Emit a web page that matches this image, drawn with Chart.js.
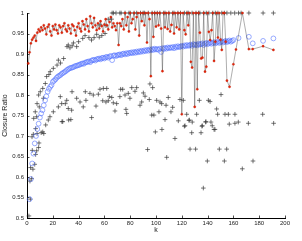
<!DOCTYPE html>
<html>
<head>
<meta charset="UTF-8">
<title>Closure Ratio</title>
<script src="https://cdn.jsdelivr.net/npm/chart.js"></script>
<style>
  body { margin: 0; background: #fff; }
  #wrap { width: 302px; height: 241px; }
</style>
</head>
<body>
<div id="wrap"><canvas id="c" width="302" height="241"></canvas></div>
<script>
// red series (line + dots), k = 1..154 dense, then a sparse tail
const redDense = [
  0.877, 0.904, 0.926, 0.935, 0.940, 0.945, 0.932, 0.952, 0.960, 0.955,
  0.965, 0.958, 0.970, 0.962, 0.948, 0.966, 0.972, 0.955, 0.945, 0.968,
  0.960, 0.972, 0.958, 0.950, 0.970, 0.965, 0.952, 0.968, 0.975, 0.960,
  0.955, 0.970, 0.962, 0.950, 0.972, 0.968, 0.958, 0.945, 0.966, 0.975,
  0.962, 0.955, 0.980, 0.972, 0.960, 0.985, 0.968, 0.955, 0.992, 0.975,
  0.965, 0.988, 0.970, 0.958, 0.975, 0.962, 0.980, 0.968, 0.955, 0.972,
  0.985, 0.970, 0.960, 0.978, 0.990, 0.965, 0.975, 0.968, 0.958, 0.975,
  0.922, 0.975, 0.968, 0.985, 0.960, 1.000, 0.970, 0.990, 0.955, 1.000,
  0.975, 0.985, 1.000, 0.960, 0.990, 1.000, 0.945, 1.000, 0.980, 1.000,
  0.970, 1.000, 0.928, 1.000, 0.985, 0.846, 1.000, 0.942, 1.000, 0.967,
  1.000, 0.970, 1.000, 0.962, 0.858, 1.000, 0.965, 1.000, 0.961, 1.000,
  0.955, 0.971, 1.000, 0.950, 1.000, 0.965, 1.000, 0.960, 1.000, 0.753,
  1.000, 0.958, 0.948, 1.000, 0.970, 1.000, 0.881, 0.867, 1.000, 0.771,
  1.000, 0.814, 1.000, 0.952, 0.889, 0.891, 1.000, 0.857, 0.869, 1.000,
  0.954, 0.934, 0.958, 1.000, 0.883, 0.930, 1.000, 0.940, 1.000, 0.935,
  0.910, 1.000, 1.000, 0.930
];
const redTailK = [155, 157, 160, 162, 167, 172, 175, 183, 191];
const redTailV = [0.835, 0.820, 0.875, 0.911, 1.000, 0.912, 0.912, 0.919, 0.910];

// blue circles, k = 2..160 dense, then a sparse tail
const blueDense = [
  0.546, 0.595, 0.633, 0.657, 0.682, 0.700, 0.717, 0.730,
  0.745, 0.755, 0.763, 0.775, 0.787, 0.797, 0.808, 0.815, 0.820, 0.824, 0.832,
  0.835, 0.838, 0.842, 0.845, 0.847, 0.849, 0.852, 0.854, 0.856, 0.858,
  0.861, 0.863, 0.865, 0.866, 0.867, 0.868, 0.870, 0.871, 0.872, 0.873,
  0.874, 0.876, 0.877, 0.876, 0.879, 0.880, 0.881, 0.882, 0.880, 0.884,
  0.885, 0.886, 0.884, 0.887, 0.888, 0.889, 0.887, 0.890, 0.891, 0.889,
  0.892, 0.893, 0.891, 0.894, 0.895, 0.885, 0.896, 0.897, 0.895, 0.897,
  0.898, 0.899, 0.897, 0.900, 0.901, 0.899, 0.902, 0.900, 0.903, 0.902,
  0.904, 0.902, 0.905, 0.903, 0.906, 0.904, 0.907, 0.905, 0.908, 0.906,
  0.909, 0.907, 0.910, 0.908, 0.911, 0.909, 0.912, 0.910, 0.913, 0.911,
  0.912, 0.910, 0.913, 0.905, 0.914, 0.912, 0.915, 0.913, 0.916, 0.914,
  0.916, 0.915, 0.917, 0.914, 0.918, 0.916, 0.919, 0.917, 0.918, 0.920,
  0.918, 0.921, 0.919, 0.922, 0.920, 0.921, 0.923, 0.920, 0.924, 0.922,
  0.923, 0.921, 0.925, 0.923, 0.924, 0.926, 0.922, 0.925, 0.927, 0.924,
  0.926, 0.928, 0.925, 0.927, 0.929, 0.926, 0.928, 0.930, 0.927, 0.929,
  0.931, 0.928, 0.930, 0.932, 0.929, 0.931, 0.933, 0.930, 0.932, 0.934
];
const blueTailK = [164, 172, 175, 183, 191];
const blueTailV = [0.939, 0.942, 0.926, 0.932, 0.938];

// black pluses [k, ratio]
const plusPts = [
  [1.5,0.505],[2.6,0.546],[2.3,0.590],[3.6,0.596],[2.8,0.623],[4.6,0.619],[6,0.631],
  [4.1,0.665],[6.7,0.655],[7.5,0.664],[9.3,0.683],[9,0.672],[3.9,0.698],[4.9,0.704],
  [6.7,0.718],[7.8,0.706],[11,0.708],[12.2,0.710],[13,0.706],[14.5,0.727],[16.5,0.739],
  [27.7,0.735],[34,0.740],[27.1,0.735],[32.3,0.739],[93.5,0.667],
  [5.2,0.743],[6.4,0.759],[7.8,0.779],[9.5,0.771],[9,0.800],[10.3,0.808],[12.2,0.816],
  [14.2,0.828],[15.2,0.845],[17,0.850],[18,0.857],[20.4,0.865],[23.3,0.873],[24.3,0.885],
  [26,0.878],[28.4,0.889],[31,0.918],[32,0.922],[33.3,0.915],[35,0.920],[36,0.927],
  [38.5,0.918],[40,0.930],[43.2,0.938],[45,0.945],[48,0.940],[50,0.934],[52,0.940],
  [54,0.948],[56,0.941],[58,0.945],[60.5,0.950],[61.2,0.969],[56.6,0.971],[63,0.985],
  [65.6,0.985],
  [66,1],[67,1],[69,1],[72,1],[73,1],[76,1],[79,1],[80,1],[83,1],[85,1],[88,1],[90,1],
  [91,1],[94,1],[97,1],[99,1],[101,1],[103,1],[106,1],[107,1],[110,1],[113,1],[114,1],
  [117,1],[119,1],[122,1],[124,1],[125,1],[128,1],[131,1],[133,1],[134,1],[137,1],
  [139,1],[141,1],[144,1],[146,1],[148,1],[151,1],[153,1],[155,1],[158,1],[161,1],
  [164,1],[166,1],[172,1],[183,1],[191,1],
  [7.5,0.747],[12.7,0.792],[17.8,0.747],[20.4,0.759],[24.3,0.771],[25.8,0.796],
  [26.9,0.779],[29.7,0.779],[30.8,0.787],[32,0.767],[34.6,0.763],[34.9,0.808],
  [38.5,0.792],[41.1,0.783],[43.6,0.771],[45.2,0.808],[45.7,0.787],[48.8,0.804],
  [50.1,0.745],[51.4,0.800],[53.5,0.773],[55.3,0.802],[56.6,0.814],[58.7,0.786],
  [59.2,0.816],[61.2,0.783],[61.8,0.816],[63,0.786],[63.8,0.796],[65.7,0.794],
  [66.9,0.781],[68.2,0.761],[69.5,0.779],[72,0.796],[72.6,0.814],[74.2,0.814],
  [76,0.800],[76.7,0.765],[77.3,0.755],[78.5,0.804],[79.8,0.792],[81.2,0.818],
  [83.7,0.809],[85,0.818],[87.6,0.775],[88.9,0.783],[90.2,0.805],[91.5,0.797],
  [94.8,0.789],[95.3,0.827],[96.7,0.751],[97.4,0.818],[98.4,0.751],[99.5,0.710],
  [100.5,0.787],[102.3,0.759],[103.1,0.783],[104.4,0.779],[104.6,0.716],[107,0.740],
  [107.8,0.775],[108.3,0.648],[109.5,0.794],[111.6,0.759],[112.9,0.770],[114.7,0.694],
  [117.3,0.737],[118.6,0.789],[121.2,0.787],[122,0.724],[122.5,0.725],[123.8,0.753],
  [125.6,0.738],[125.8,0.739],[126.4,0.668],[127.7,0.708],[128.1,0.734],[130.7,0.668],
  [131.5,0.753],[133.6,0.787],[134.9,0.708],[135.6,0.724],[135.9,0.725],[136.7,0.573],
  [138.5,0.734],[138.7,0.735],[139.8,0.639],[140.6,0.787],[141.9,0.784],[142.6,0.734],
  [143.6,0.725],[145,0.716],[145.7,0.716],[147,0.766],[147.8,0.753],[149.1,0.668],
  [150.4,0.801],[153,0.639],[153.5,0.753],[154.8,0.668],[156.1,0.753],[156.8,0.729],
  [161.2,0.753],[161.2,0.731],[163.8,0.734],[166.9,0.620],[171.6,0.731],[175.2,0.639],
  [182.7,0.753],[191.2,0.731]
];

const xTicks = [0, 20, 40, 60, 80, 100, 120, 140, 160, 180, 200];
const yTicks = [0.5, 0.55, 0.6, 0.65, 0.7, 0.75, 0.8, 0.85, 0.9, 0.95, 1];

const redData = redDense.map((v, i) => ({ x: i + 1, y: v }))
  .concat(redTailK.map((k, i) => ({ x: k, y: redTailV[i] })));
const blueData = blueDense.map((v, i) => ({ x: i + 2, y: v }))
  .concat(blueTailK.map((k, i) => ({ x: k, y: blueTailV[i] })));
const plusData = plusPts.map(p => ({ x: p[0], y: p[1] }));

// MATLAB style inward ticks
const inTicks = {
  id: 'inTicks',
  afterDraw(chart) {
    const { ctx, chartArea: a, scales: { x, y } } = chart;
    ctx.save();
    ctx.strokeStyle = '#000';
    ctx.lineWidth = 0.7;
    ctx.beginPath();
    xTicks.forEach(t => {
      const px = Math.round(x.getPixelForValue(t)) + 0.5;
      ctx.moveTo(px, a.bottom); ctx.lineTo(px, a.bottom - 2.5);
    });
    yTicks.forEach(t => {
      const py = Math.round(y.getPixelForValue(t)) + 0.5;
      ctx.moveTo(a.left, py); ctx.lineTo(a.left + 2.5, py);
    });
    ctx.stroke();
    ctx.restore();
  }
};

new Chart(document.getElementById('c'), {
  type: 'scatter',
  data: {
    datasets: [
      { data: redData, showLine: true, borderColor: 'rgba(60,60,60,0.7)', borderWidth: 0.6,
        pointStyle: 'circle', pointRadius: 1.1, pointBackgroundColor: '#e8260c',
        pointBorderColor: '#c01800', pointBorderWidth: 0.4, clip: 6 },
      { data: blueData, pointStyle: 'circle', pointRadius: 2.4, pointBackgroundColor: 'rgba(0,0,0,0)',
        pointBorderColor: '#5573ff', pointBorderWidth: 0.6, clip: 6 },
      { data: plusData, pointStyle: 'cross', pointRadius: 2.3, pointBorderColor: '#3a3a3a',
        pointBorderWidth: 0.7, clip: 6 }
    ]
  },
  options: {
    responsive: false,
    animation: false,
    events: [],
    layout: { padding: { left: 0, top: 13, right: 17, bottom: 0 } },
    plugins: { legend: { display: false }, tooltip: { enabled: false } },
    scales: {
      x: {
        type: 'linear', min: 0, max: 200,
        afterBuildTicks: s => { s.ticks = xTicks.map(v => ({ value: v })); },
        afterFit: s => { s.height = 23; },
        grid: { display: false, drawTicks: false },
        border: { display: true, color: '#000', width: 1 },
        ticks: { padding: 2, color: '#222', font: { family: 'Liberation Sans', size: 6 } },
        title: { display: true, text: 'k', color: '#222', padding: { top: 0, bottom: 7 },
          font: { family: 'Liberation Sans', size: 7 } }
      },
      y: {
        type: 'linear', min: 0.5, max: 1,
        afterBuildTicks: s => { s.ticks = yTicks.map(v => ({ value: v })); },
        afterFit: s => { s.width = 27; },
        grid: { display: false, drawTicks: false },
        border: { display: true, color: '#000', width: 1 },
        ticks: { padding: 3, color: '#222', font: { family: 'Liberation Sans', size: 6 },
          callback: v => String(+v.toFixed(2)) },
        title: { display: true, text: 'Closure Ratio', color: '#222', padding: { top: 1, bottom: 0 },
          font: { family: 'Liberation Sans', size: 7 } }
      }
    }
  },
  plugins: [inTicks]
});
</script>
</body>
</html>
